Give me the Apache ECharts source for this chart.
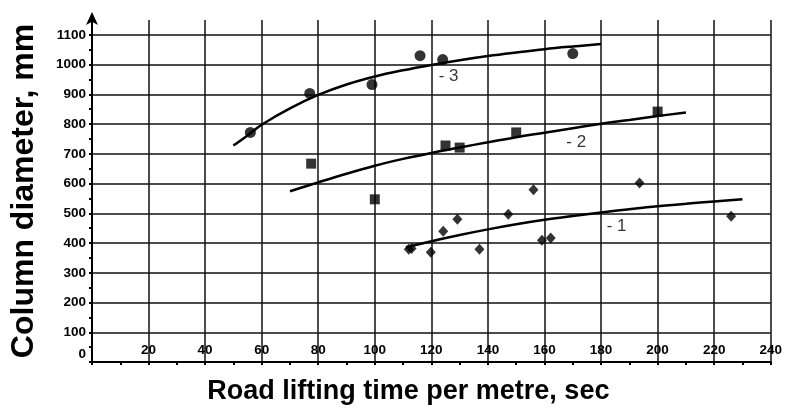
<!DOCTYPE html>
<html>
<head>
<meta charset="utf-8">
<script src="https://cdn.jsdelivr.net/npm/echarts@6/dist/echarts.min.js"></script>
<style>html,body{margin:0;padding:0;background:#fff}#c{width:785px;height:410px}</style>
</head>
<body>
<div id="c"></div>
<script>
// Measured points (road lifting time, column diameter)
var points1 = [[112,379],[113,382],[119.8,369],[124.2,440],[129.2,480],[137,379],[147.2,497],[156.1,579],[159.1,409],[162.2,417],[193.6,602],[226,490]];
var points2 = [[77.5,667],[100,547],[125,728],[130,721],[150,772],[200,842]];
var points3 = [[56,772],[77,903],[99,933],[116,1030],[124,1017],[170,1037]];
// Trend curves
var curve1 = [[111,386],[120,406],[130,427],[140,446],[150,463],[160,478],[170,491],[180,503],[190,514],[200,524],[210,532],[220,540],[230,547]];
var curve2 = [[70,574],[80,604],[90,633],[100,660],[110,683],[120,703],[130,721],[140,739],[150,756],[160,771],[170,786],[180,801],[190,814],[200,827],[210,839]];
var curve3 = [[50,728],[55,762],[60,798],[70,853],[80,898],[90,933],[100,960],[110,981],[120,999],[130,1015],[140,1029],[150,1041],[160,1052],[170,1061],[180,1069]];
// Curve annotations
var curveLabels = [[122.6,960,'- 3'],[167.7,738,'- 2'],[182,456,'- 1']];
var xTicks = [0,20,40,60,80,100,120,140,160,180,200,220,240];
var yTicks = [0,100,200,300,400,500,600,700,800,900,1000,1100];

var FONT = 'Liberation Sans, Arial, sans-serif';
var lineCol = '#111';
var ySplitColors = yTicks.map(function(){return lineCol;}).concat(['rgba(0,0,0,0)']);

var chart = echarts.init(document.getElementById('c'), null, {renderer:'canvas'});
chart.setOption({
  animation:false,
  backgroundColor:'#fff',
  grid:{left:89,right:4,top:20,bottom:47,containLabel:false},
  xAxis:{
    type:'value', min:xTicks[0], max:xTicks[xTicks.length-1], interval:20,
    name:'Road lifting time per metre, sec', nameLocation:'middle', nameGap:16,
    nameTextStyle:{fontFamily:FONT,fontWeight:'bold',fontSize:27,color:'#000',padding:[0,46,0,0],verticalAlign:'top'},
    axisLine:{show:true,lineStyle:{color:'#000',width:2}},
    axisTick:{show:true,length:3,lineStyle:{color:'#000',width:2}},
    minorTick:{show:true,splitNumber:2,length:3,lineStyle:{color:'#000',width:2}},
    splitLine:{show:true,lineStyle:{color:lineCol,width:1.5}},
    axisLabel:{inside:true,margin:5,fontFamily:FONT,fontWeight:'bold',fontSize:13.5,color:'#000',
      formatter:function(v){return v===0?'':String(v);}}
  },
  yAxis:{
    type:'value', min:yTicks[0], max:1150, interval:100,
    name:'Column diameter, mm', nameLocation:'middle', nameGap:52, nameRotate:90,
    nameTextStyle:{fontFamily:FONT,fontWeight:'bold',fontSize:32,color:'#000'},
    axisLine:{show:true,symbol:['none','arrow'],symbolSize:[9,13],symbolOffset:[0,8],lineStyle:{color:'#000',width:2}},
    axisTick:{show:true,length:3,lineStyle:{color:'#000',width:2}},
    minorTick:{show:true,splitNumber:2,length:3,lineStyle:{color:'#000',width:2}},
    splitLine:{show:true,lineStyle:{color:ySplitColors,width:1.5}},
    axisLabel:{margin:6,fontFamily:FONT,fontWeight:'bold',fontSize:13.5,color:'#000',
      formatter:function(v){ if(v>1100) return ''; if(v===0) return '{z|0}'; return String(v);},
      rich:{z:{fontFamily:FONT,fontWeight:'bold',fontSize:13.5,color:'#000',padding:[0,0,16,0]}}}
  },
  series:[
    {type:'line',data:curve3,smooth:0.4,showSymbol:false,symbol:'none',lineStyle:{color:'#000',width:2.5},z:3},
    {type:'line',data:curve2,smooth:0.4,showSymbol:false,symbol:'none',lineStyle:{color:'#000',width:2.5},z:3},
    {type:'line',data:curve1,smooth:0.4,showSymbol:false,symbol:'none',lineStyle:{color:'#000',width:2.5},z:3},
    {type:'scatter',data:points3,symbol:'circle',symbolSize:11,itemStyle:{color:'#000'},z:4},
    {type:'scatter',data:points2,symbol:'rect',symbolSize:10,itemStyle:{color:'#000'},z:4},
    {type:'scatter',data:points1,symbol:'diamond',symbolSize:[10,11],itemStyle:{color:'#000'},z:4},
    {type:'scatter',data:curveLabels.map(function(d){return {value:[d[0],d[1]],name:d[2]};}),
      symbolSize:0,silent:true,z:5,
      label:{show:true,position:[0,0],align:'left',verticalAlign:'middle',formatter:'{b}',
        fontFamily:FONT,fontSize:17,color:'#000'}}
  ]
});
</script>
</body>
</html>
